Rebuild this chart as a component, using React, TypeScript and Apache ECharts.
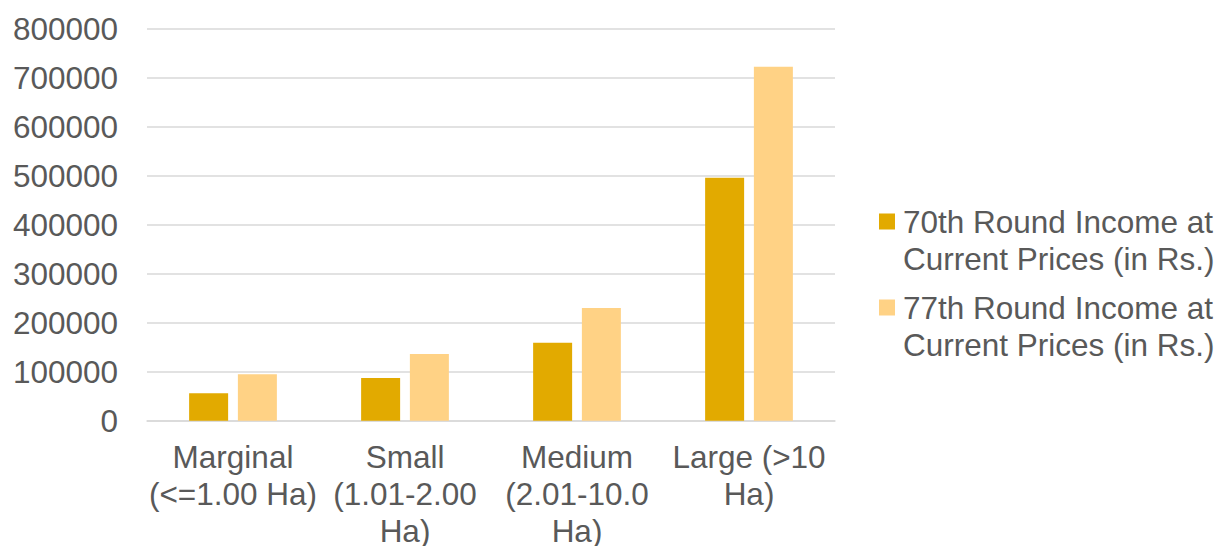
import React, { useEffect, useRef } from "react";
import * as echarts from "echarts";

const categories = [
  "Marginal\n(<=1.00 Ha)",
  "Small\n(1.01-2.00\nHa)",
  "Medium\n(2.01-10.0\nHa)",
  "Large (>10\nHa)",
];
const seriesNames = [
  "70th Round Income at\nCurrent Prices (in Rs.)",
  "77th Round Income at\nCurrent Prices (in Rs.)",
];
const round70 = [56000, 87000, 159000, 496000];
const round77 = [95000, 136000, 230000, 723000];
const yMin = 0;
const yMax = 800000;
const yInterval = 100000;

const FONT = "'Liberation Sans', Arial, sans-serif";
const TEXT = "#595959";
const GRID = "#d9d9d9";
const COLORS = ["#E2AA00", "#FFD285"];

export default function App() {
  const ref = useRef<HTMLDivElement>(null);
  useEffect(() => {
    if (!ref.current) return;
    const chart = echarts.init(ref.current, null, { renderer: "svg" });
    const icon = "path://M0,10.5h16v16h-16zM0,0h0.01M19,74h0.01";
    chart.setOption({
      animation: false,
      color: COLORS,
      textStyle: { fontFamily: FONT },
      grid: {
        left: 147,
        right: 386,
        top: 29,
        bottom: 125.3,
        containLabel: false,
        outerBoundsMode: "none",
      },
      legend: {
        orient: "vertical",
        left: 879,
        top: 203,
        padding: 0,
        itemGap: 12,
        itemWidth: 19,
        itemHeight: 74,
        icon,
        selectedMode: false,
        textStyle: { fontSize: 31.5, color: TEXT, lineHeight: 37, fontFamily: FONT },
        data: seriesNames.map((n) => ({ name: n, icon })),
      },
      xAxis: {
        type: "category",
        data: categories,
        axisLine: { show: true, lineStyle: { color: GRID, width: 1.5 } },
        axisTick: { show: false },
        axisLabel: {
          interval: 0,
          margin: 18,
          color: TEXT,
          fontSize: 31.5,
          lineHeight: 37,
          fontFamily: FONT,
        },
      },
      yAxis: {
        type: "value",
        min: yMin,
        max: yMax,
        interval: yInterval,
        axisLine: { show: false },
        axisTick: { show: false },
        splitLine: { lineStyle: { color: GRID, width: 1.5 } },
        axisLabel: {
          margin: 29,
          color: TEXT,
          fontSize: 31.5,
          fontFamily: FONT,
          formatter: (v: number) => String(v),
        },
      },
      series: [
        { name: seriesNames[0], type: "bar", data: round70, barWidth: 39, barGap: "25%" },
        { name: seriesNames[1], type: "bar", data: round77, barWidth: 39, barGap: "25%" },
      ],
    });
    return () => chart.dispose();
  }, []);
  return (
    <div
      ref={ref}
      style={{ position: "fixed", left: 0, top: 0, width: 1221, height: 546, background: "#fff" }}
    />
  );
}
